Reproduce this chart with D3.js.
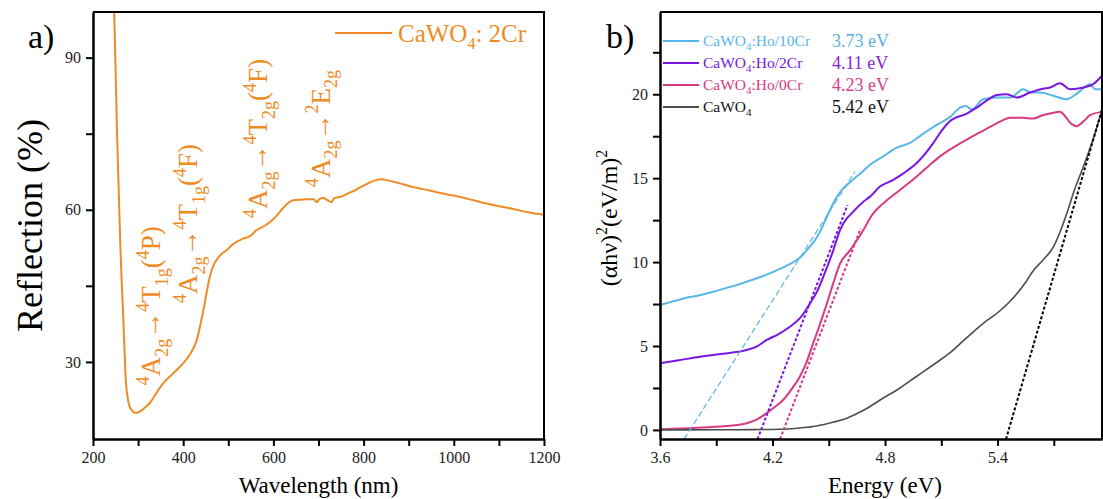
<!DOCTYPE html>
<html>
<head>
<meta charset="utf-8">
<script src="https://cdn.jsdelivr.net/npm/d3@7"></script>
<style>
  body { margin: 0; background: #fff; }
  text { font-family: "Liberation Serif", "DejaVu Serif", "Times New Roman", serif; }
</style>
</head>
<body>
<svg id="chart" width="1103" height="499"></svg>
<script>
// panel a: reflection spectrum (wavelength nm, reflection %)
const crSpectrum = [
  [247, 99], [250, 88], [253, 76], [257, 64], [261, 52], [264, 45], [267, 39], [270, 32],
  [273, 26], [276, 23.5], [280, 21.5], [286, 20.5], [292, 20], [298, 20], [305, 20.3],
  [315, 21], [326, 21.9], [340, 23.8], [356, 25.8], [375, 27.5], [390, 28.8], [400, 29.7],
  [415, 31.5], [430, 34.3], [445, 40.3], [459, 46.8], [467, 49], [474, 50.1], [485, 51.3],
  [496, 52], [510, 53.2], [530, 54.2], [548, 54.8], [563, 56], [580, 56.8], [595, 57.8],
  [607, 58.8], [620, 60.2], [632, 61.3], [644, 61.9], [660, 62], [675, 62.1], [689, 62.1],
  [696, 61.5], [703, 62.2], [711, 62.3], [720, 61.9], [729, 61.5], [735, 62.3], [750, 62.6],
  [762, 63.1], [780, 63.8], [792, 64.4], [810, 65.2], [829, 65.9], [840, 66], [858, 65.7],
  [880, 65.2], [900, 64.7], [925, 64.2], [947, 63.8], [970, 63.3], [1000, 62.8], [1029, 62.2],
  [1060, 61.5], [1095, 60.8], [1130, 60.2], [1165, 59.5], [1200, 59.0]
]
const wavelengthTicks = [200, 400, 600, 800, 1000, 1200]
const wavelengthMinor = [300, 500, 700, 900, 1100]
const reflectionTicks = [30, 60, 90]
const reflectionMinor = [45, 75]

// annotations: transitions (parts: [text, kind]), placed at (wavelength, reflection)
const transitions = [
  { wl: 349, r: 25.4, parts: [['4', 'sup'], ['A', ''], ['2g', 'sub'], ['\u2192', ''], ['4', 'sup'], ['T', ''], ['1g', 'sub'], ['(', ''], ['4', 'sup'], ['P', ''], [')', '']] },
  { wl: 431, r: 41.6, parts: [['4', 'sup'], ['A', ''], ['2g', 'sub'], ['\u2192', ''], ['4', 'sup'], ['T', ''], ['1g', 'sub'], ['(', ''], ['4', 'sup'], ['F', ''], [')', '']] },
  { wl: 586, r: 58.4, parts: [['4', 'sup'], ['A', ''], ['2g', 'sub'], ['\u2192', ''], ['4', 'sup'], ['T', ''], ['2g', 'sub'], ['(', ''], ['4', 'sup'], ['F', ''], [')', '']] },
  { wl: 725, r: 64.5, parts: [['4', 'sup'], ['A', ''], ['2g', 'sub'], ['\u2192', ''], ['2', 'sup'], ['E', ''], ['2g', 'sub']] }
]

// panel b: Tauc plot (energy eV, (ahv)^2)
const hoCr10 = [
  [3.6, 7.45], [3.65, 7.6], [3.7, 7.75], [3.75, 7.9], [3.8, 8.0], [3.884, 8.23], [3.95, 8.45],
  [4.0, 8.6], [4.062, 8.83], [4.12, 9.05], [4.204, 9.42], [4.26, 9.7], [4.311, 10.0], [4.35, 10.3],
  [4.382, 10.7], [4.42, 11.2], [4.453, 11.8], [4.49, 12.7], [4.533, 13.7], [4.57, 14.3],
  [4.613, 14.75], [4.67, 15.3], [4.72, 15.8], [4.791, 16.3], [4.86, 16.8], [4.933, 17.1],
  [5.004, 17.65], [5.08, 18.2], [5.147, 18.65], [5.2, 19.2], [5.23, 19.3], [5.262, 19.1],
  [5.324, 19.7], [5.396, 19.8], [5.467, 19.8], [5.538, 20.3], [5.58, 20.1], [5.627, 20.1],
  [5.7, 19.9], [5.769, 19.7], [5.83, 20.1], [5.893, 20.6], [5.92, 20.3], [5.957, 20.3]
]
const hoCr2 = [
  [3.6, 3.97], [3.7, 4.15], [3.813, 4.36], [3.9, 4.5], [3.98, 4.6], [4.062, 4.76], [4.12, 5.0],
  [4.169, 5.36], [4.23, 5.7], [4.293, 6.15], [4.35, 6.7], [4.4, 7.54], [4.44, 8.3], [4.471, 9.13],
  [4.524, 10.7], [4.56, 11.9], [4.596, 12.6], [4.613, 12.8], [4.684, 13.6], [4.72, 13.9],
  [4.773, 14.5], [4.844, 14.9], [4.9, 15.3], [4.969, 15.9], [5.058, 17.1], [5.1, 17.8],
  [5.147, 18.4], [5.236, 18.85], [5.289, 19.2], [5.34, 19.6], [5.396, 19.95], [5.45, 20.0],
  [5.502, 19.8], [5.573, 20.1], [5.63, 20.3], [5.68, 20.4], [5.733, 20.65], [5.787, 20.3],
  [5.858, 20.4], [5.91, 20.6], [5.957, 21.1]
]
const hoCr0 = [
  [3.6, 0.04], [3.75, 0.1], [3.92, 0.2], [4.0, 0.28], [4.062, 0.4], [4.12, 0.65], [4.169, 1.0],
  [4.21, 1.35], [4.258, 1.8], [4.3, 2.4], [4.347, 3.2], [4.38, 4.0], [4.418, 5.2], [4.45, 6.2],
  [4.489, 7.5], [4.52, 8.6], [4.56, 9.9], [4.613, 10.7], [4.684, 11.9], [4.73, 12.8],
  [4.791, 13.5], [4.88, 14.3], [4.969, 15.1], [5.03, 15.7], [5.093, 16.3], [5.16, 16.8],
  [5.236, 17.3], [5.3, 17.7], [5.36, 18.05], [5.41, 18.35], [5.467, 18.6], [5.53, 18.6],
  [5.591, 18.55], [5.64, 18.75], [5.68, 18.85], [5.733, 18.95], [5.76, 18.7], [5.787, 18.3],
  [5.822, 18.1], [5.86, 18.4], [5.893, 18.75], [5.957, 18.95]
]
const pureCaWO4 = [
  [3.6, 0], [3.9, 0.01], [4.1, 0.02], [4.24, 0.04], [4.33, 0.1], [4.418, 0.2], [4.5, 0.4],
  [4.596, 0.7], [4.69, 1.2], [4.791, 1.9], [4.88, 2.5], [4.969, 3.2], [5.06, 3.9], [5.147, 4.6],
  [5.236, 5.5], [5.324, 6.35], [5.413, 7.1], [5.502, 8.1], [5.55, 8.8], [5.591, 9.5],
  [5.64, 10.1], [5.698, 10.9], [5.73, 11.7], [5.769, 12.9], [5.81, 14.3], [5.858, 15.7],
  [5.9, 17.0], [5.957, 19.05]
]
// tangent lines (start, end)
const fitCr10 = [[3.728, -0.55], [4.64, 15.4]]
const fitCr2 = [[4.12, -0.55], [4.60, 13.4]]
const fitCr0 = [[4.24, -0.55], [4.67, 12.0]]
const fitPure = [[5.445, -0.55], [5.96, 19.2]]

const seriesNames = ['CaWO4:Ho/10Cr', 'CaWO4:Ho/2Cr', 'CaWO4:Ho/0Cr', 'CaWO4']
const bandGaps = ['3.73 eV', '4.11 eV', '4.23 eV', '5.42 eV']
const energyTicks = [3.6, 4.2, 4.8, 5.4]
const energyMinor = [3.9, 4.5, 5.1, 5.7]
const taucTicks = [0, 5, 10, 15, 20]
const taucMinor = [2.5, 7.5, 12.5, 17.5, 22.5]

const serif = '"Liberation Serif", "DejaVu Serif", "Times New Roman", serif'
const orange = '#f08a24'
const lineColors = ['#58b6e8', '#7a16e2', '#d83a80', '#4d4d4d']
const gapColors = ['#58b0e4', '#8a1fd6', '#d8408a', '#111']

const svg = d3.select('#chart').attr('font-family', serif)

// text with sub / superscripts; each piece sets dy relative to the previous one
function richText(sel, parts, big, small) {
  let cur = 0
  parts.forEach(p => {
    let target = 0
    if (p[1] === 'sub') target = big * 0.28
    if (p[1] === 'sup') target = -big * 0.42
    sel.append('tspan')
      .attr('font-size', p[1] ? small : big)
      .attr('dy', target - cur)
      .text(p[0])
    cur = target
  })
}

function drawFrame(g, x, y, xMaj, xMin, yMaj, yMin, fmtX) {
  const [x0, x1] = x.range()
  const [y0, y1] = y.range()
  g.append('g')
    .attr('transform', `translate(0,${y0})`)
    .call(d3.axisBottom(x).tickValues(xMin).tickSize(7).tickSizeOuter(0).tickFormat(''))
  g.append('g')
    .attr('transform', `translate(0,${y0})`)
    .call(d3.axisBottom(x).tickValues(xMaj).tickSize(7).tickSizeOuter(0).tickPadding(6).tickFormat(fmtX))
  g.append('g')
    .attr('transform', `translate(${x0},0)`)
    .call(d3.axisLeft(y).tickValues(yMin).tickSize(7).tickSizeOuter(0).tickFormat(''))
  g.append('g')
    .attr('transform', `translate(${x0},0)`)
    .call(d3.axisLeft(y).tickValues(yMaj).tickSize(7).tickSizeOuter(0).tickPadding(5).tickFormat(d3.format('d')))
  g.selectAll('g').attr('font-family', serif).attr('font-size', 16)
  g.selectAll('.domain').attr('stroke-width', 2).attr('stroke', '#000')
  g.selectAll('.tick line').attr('stroke-width', 2).attr('stroke', '#000')
  g.selectAll('.tick text').attr('fill', '#222')
  g.append('path')
    .attr('d', `M${x0},${y1}H${x1}V${y0}`)
    .attr('fill', 'none')
    .attr('stroke', '#000')
    .attr('stroke-width', 2)
}

// ---------------- panel a ----------------
const xa = d3.scaleLinear().domain([200, 1200]).range([93, 544])
const ya = d3.scaleLinear().domain([14.8, 99]).range([439, 12])
const ga = svg.append('g')

ga.append('path')
  .datum(crSpectrum)
  .attr('d', d3.line().x(d => xa(d[0])).y(d => ya(d[1])).curve(d3.curveMonotoneX))
  .attr('fill', 'none')
  .attr('stroke', orange)
  .attr('stroke-width', 2)

drawFrame(ga, xa, ya, wavelengthTicks, wavelengthMinor, reflectionTicks, reflectionMinor, d3.format('d'))

transitions.forEach(tr => {
  const t = ga.append('text')
    .attr('transform', `translate(${xa(tr.wl)},${ya(tr.r)}) rotate(-90)`)
    .attr('fill', orange)
  richText(t, tr.parts, 27, 18)
})

ga.append('line')
  .attr('x1', 335).attr('x2', 392).attr('y1', 33).attr('y2', 33)
  .attr('stroke', orange).attr('stroke-width', 2)
const legA = ga.append('text').attr('x', 398).attr('y', 42).attr('fill', orange)
richText(legA, [['CaWO', ''], ['4', 'sub'], [': 2Cr', '']], 25, 16)

ga.append('text')
  .attr('x', 28).attr('y', 48)
  .attr('font-size', 34)
  .text('a)')

ga.append('text')
  .attr('transform', `translate(42,${(ya.range()[0] + ya.range()[1]) / 2}) rotate(-90)`)
  .attr('text-anchor', 'middle')
  .attr('font-size', 36)
  .text('Reflection (%)')

ga.append('text')
  .attr('x', (xa.range()[0] + xa.range()[1]) / 2)
  .attr('y', 493)
  .attr('text-anchor', 'middle')
  .attr('font-size', 23)
  .text('Wavelength (nm)')

// ---------------- panel b ----------------
const xb = d3.scaleLinear().domain([3.6, 5.957]).range([660, 1102])
const yb = d3.scaleLinear().domain([-0.54, 24.9]).range([439, 12])
const gb = svg.append('g')
const lineB = d3.line().x(d => xb(d[0])).y(d => yb(d[1])).curve(d3.curveMonotoneX)

const curves = [hoCr10, hoCr2, hoCr0, pureCaWO4]
curves.forEach((c, i) => {
  gb.append('path')
    .datum(c)
    .attr('d', lineB)
    .attr('fill', 'none')
    .attr('stroke', lineColors[i])
    .attr('stroke-width', i === 3 ? 1.6 : 2)
})

const fits = [fitCr10, fitCr2, fitCr0, fitPure]
fits.forEach((f, i) => {
  gb.append('path')
    .datum(f)
    .attr('d', d3.line().x(d => xb(d[0])).y(d => yb(d[1])))
    .attr('fill', 'none')
    .attr('stroke', i === 3 ? '#000' : lineColors[i])
    .attr('stroke-width', i === 0 ? 1.2 : 2)
    .attr('stroke-dasharray', i === 0 ? '6,3' : '3,2')
})

drawFrame(gb, xb, yb, energyTicks, energyMinor, taucTicks, taucMinor, d3.format('.1f'))

const legY = [41, 63, 85, 107]
seriesNames.forEach((name, i) => {
  gb.append('line')
    .attr('x1', 663).attr('x2', 699).attr('y1', legY[i]).attr('y2', legY[i])
    .attr('stroke', lineColors[i]).attr('stroke-width', 2)
  const t = gb.append('text')
    .attr('x', 703).attr('y', legY[i] + 5)
    .attr('fill', i === 3 ? '#111' : lineColors[i])
  const idx = name.indexOf('4')
  richText(t, [[name.slice(0, idx), ''], ['4', 'sub'], [name.slice(idx + 1), '']], 15.5, 11)
  gb.append('text')
    .attr('x', 832).attr('y', legY[i] + 6)
    .attr('font-size', 18)
    .attr('fill', gapColors[i])
    .text(bandGaps[i])
})

gb.append('text')
  .attr('x', 606).attr('y', 48)
  .attr('font-size', 34)
  .text('b)')

const yLab = gb.append('text')
  .attr('transform', `translate(617,218) rotate(-90)`)
  .attr('text-anchor', 'middle')
richText(yLab, [['(\u03b1h\u03bd)', ''], ['2', 'sup'], ['(eV/m)', ''], ['2', 'sup']], 24, 16)

gb.append('text')
  .attr('x', 885)
  .attr('y', 493)
  .attr('text-anchor', 'middle')
  .attr('font-size', 23)
  .text('Energy (eV)')
</script>
</body>
</html>
